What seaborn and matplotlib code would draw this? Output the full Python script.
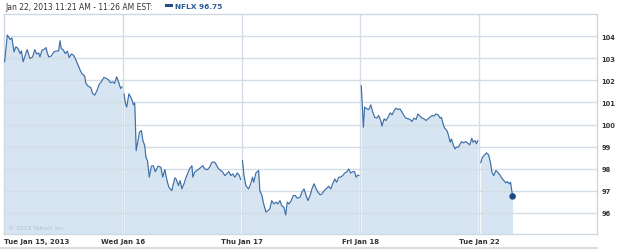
import numpy as np
import pandas as pd
import matplotlib
matplotlib.use("Agg")
import matplotlib.pyplot as plt
import seaborn as sns
from matplotlib.lines import Line2D
from matplotlib.patches import Rectangle

# ---------------- data ----------------
day_labels = ["Tue Jan 15, 2013", "Wed Jan 16", "Thu Jan 17", "Fri Jan 18", "Tue Jan 22"]
y_ticks = [96, 97, 98, 99, 100, 101, 102, 103, 104]
header_text = "Jan 22, 2013 11:21 AM - 11:26 AM EST:"
legend_text = "NFLX 96.75"
copyright_text = "\u00a9 2013 Yahoo! Inc."
session_minutes = 390  # 9:30 - 16:00

# minutes since the open, per trading day
day1_min = [2, 11, 20, 26, 33, 39, 46, 53, 57, 63, 70, 76, 85, 94, 101, 107, 114, 118, 125, 131,
            138, 142, 147, 155, 164, 173, 179, 184, 188, 195, 201, 208, 214, 221, 228, 234, 241, 250, 256, 265,
            269, 276, 285, 291, 298, 306, 313, 319, 328, 337, 344, 350, 357, 363, 370, 377, 383, 388]
day1_px = [102.84, 104.05, 103.85, 103.92, 103.29, 103.52, 103.44, 103.21, 103.33, 102.84,
           103.14, 103.39, 102.99, 103.06, 103.39, 103.19, 103.24, 103.06, 103.37, 103.39,
           103.48, 103.24, 103.06, 103.10, 103.29, 103.33, 103.33, 103.79, 103.44, 103.37,
           103.21, 103.32, 103.03, 103.19, 103.14, 102.99, 102.76, 102.46, 102.31, 102.19,
           101.86, 101.74, 101.67, 101.40, 101.33, 101.56, 101.83, 101.93, 102.13, 102.08,
           102.01, 101.89, 101.93, 101.86, 102.16, 101.89, 101.63, 101.71]

day2_min = [4, 9, 13, 20, 26, 31, 35, 39, 41, 44, 48, 55, 61, 66, 72, 76, 81, 87, 94, 100,
            107, 116, 125, 131, 138, 144, 151, 161, 171, 175, 183, 188, 194, 201, 208, 219, 227, 230, 236, 243,
            250, 263, 269, 278, 285, 293, 302, 315, 322, 328, 335, 341, 348, 355, 361, 368, 376, 383, 387]
day2_px = [101.39, 100.94, 100.79, 101.39, 101.24, 101.09, 100.89, 100.98, 100.26, 98.82,
           99.13, 99.66, 99.73, 99.28, 99.05, 98.52, 98.37, 97.62, 98.12, 98.14,
           97.87, 98.12, 98.07, 97.62, 97.96, 97.54, 97.17, 97.01, 97.59, 97.54,
           97.24, 97.47, 97.09, 97.32, 97.62, 97.99, 98.14, 97.62, 97.85, 97.92,
           97.99, 98.14, 97.99, 97.96, 98.07, 98.30, 98.30, 97.99, 97.92, 97.85,
           97.69, 97.77, 97.87, 97.69, 97.77, 97.62, 97.81, 97.69, 97.51]

day3_min = [3, 8, 14, 23, 30, 36, 40, 47, 56, 60, 67, 71, 80, 87, 93, 99, 106, 113, 119, 126,
            132, 139, 145, 150, 156, 163, 170, 176, 183, 192, 198, 205, 212, 218, 225, 231, 238, 245, 251, 258,
            264, 271, 280, 286, 293, 299, 306, 312, 319, 325, 332, 339, 345, 352, 358, 365, 371, 376, 382, 386]
day3_px = [98.37, 97.69, 97.24, 97.09, 97.32, 97.62, 97.39, 97.81, 97.92, 97.01,
           96.79, 96.49, 96.04, 96.11, 96.19, 96.56, 96.41, 96.49, 96.41, 96.56,
           96.33, 96.26, 95.91, 96.49, 96.41, 96.56, 96.79, 96.79, 96.67, 96.71,
           96.94, 97.09, 96.79, 96.56, 96.79, 97.09, 97.32, 97.09, 96.94, 96.82,
           96.86, 97.01, 97.12, 97.21, 97.09, 97.32, 97.54, 97.39, 97.62, 97.62,
           97.69, 97.81, 97.85, 97.99, 97.81, 97.87, 97.87, 97.62, 97.72, 97.69]

day4_min = [3, 10, 14, 21, 28, 34, 41, 47, 54, 60, 67, 71, 78, 84, 91, 98, 104, 111, 117, 124,
            130, 137, 144, 150, 157, 163, 170, 176, 183, 189, 196, 203, 209, 216, 222, 229, 235, 242, 248, 255,
            262, 266, 273, 277, 284, 288, 295, 299, 306, 311, 315, 322, 328, 333, 339, 346, 352, 359, 366, 370,
            377, 381, 386]
day4_px = [101.76, 99.88, 100.79, 100.71, 100.68, 100.89, 100.56, 100.33, 100.29, 100.41,
           100.18, 99.93, 100.26, 100.18, 100.33, 100.53, 100.44, 100.63, 100.74, 100.68,
           100.71, 100.56, 100.38, 100.29, 100.26, 100.23, 100.14, 100.29, 100.23, 100.48,
           100.38, 100.29, 100.26, 100.18, 100.26, 100.33, 100.41, 100.38, 100.48, 100.44,
           100.29, 100.33, 99.96, 99.84, 99.73, 99.58, 99.20, 99.35, 99.05, 98.90,
           98.98, 98.98, 99.13, 99.23, 99.17, 99.23, 99.17, 99.08, 99.38, 99.20,
           99.28, 99.13, 99.28]

day5_min = [5, 11, 18, 24, 31, 37, 42, 48, 55, 61, 68, 75, 81, 88, 92, 99, 103, 110]
day5_px = [98.27, 98.52, 98.63, 98.72, 98.63, 98.30, 97.85, 97.69, 97.92, 97.85,
           97.72, 97.57, 97.47, 97.36, 97.42, 97.32, 97.39, 96.75]

day_minutes = [day1_min, day2_min, day3_min, day4_min, day5_min]
day_prices = [day1_px, day2_px, day3_px, day4_px, day5_px]

frames = []
for i, (m, p) in enumerate(zip(day_minutes, day_prices)):
    frames.append(pd.DataFrame({"day": i, "minute": m, "price": p}))
df = pd.concat(frames, ignore_index=True)
df["t"] = df["day"] * session_minutes + df["minute"]

# ---------------- style ----------------
sns.set_style("white")
plt.rcParams["font.family"] = ["DejaVu Sans"]

W, H = 625, 251
fig = plt.figure(figsize=(W / 100, H / 100), dpi=100)
ax = fig.add_axes([4 / W, 16 / H, 593 / W, 220 / H])

line_col = "#3d6ea6"
fill_col = "#d6e5f1"
grid_col = "#d2dde7"
text_col = "#333333"

ymin, ymax = 95.05, 105.0
for d, g in df.groupby("day"):
    ax.fill_between(g["t"], g["price"], ymin - 1, color=fill_col, lw=0, zorder=1)

sns.lineplot(data=df, x="t", y="price", units="day", estimator=None,
             color=line_col, lw=0.85, ax=ax, zorder=3)

last = df.iloc[-1]
sns.scatterplot(x=[last["t"]], y=[last["price"]], color="#1b4b82", s=22,
                edgecolor="none", ax=ax, zorder=5)

for yv in y_ticks:
    ax.axhline(yv, color=grid_col, lw=1.0, zorder=2)
for i in range(1, len(day_labels)):
    ax.axvline(i * session_minutes, color=grid_col, lw=1.0, zorder=0.5)

ax.set_ylim(ymin, ymax)
ax.set_xlim(0, 1947)
ax.set_xlabel("")
ax.set_ylabel("")

ax.yaxis.tick_right()
ax.set_yticks(y_ticks)
ax.set_yticklabels([str(v) for v in y_ticks], fontsize=4.8, fontweight="bold", color=text_col)
ax.tick_params(axis="y", length=0, pad=3)

ax.set_xticks([i * session_minutes for i in range(len(day_labels))])
ax.set_xticklabels(day_labels, fontsize=5, fontweight="bold", color=text_col)
ax.tick_params(axis="x", length=0, pad=3)
ax.get_xticklabels()[0].set_horizontalalignment("left")

for s in ax.spines.values():
    s.set_color("#cdd8e2")
    s.set_linewidth(1.0)

ax.text(0.006, 0.03, copyright_text, transform=ax.transAxes, fontsize=4.3,
        color="#b3c0cc", va="center", ha="left", zorder=4)

# header
fig.text(5 / W, 1 - 7.3 / H, header_text, fontsize=5.5, color=text_col, va="center", ha="left")
fig.patches.append(Rectangle((165 / W, 1 - 8.2 / H), 8 / W, 3 / H, transform=fig.transFigure,
                             color="#1f4f8a", lw=0))
fig.text(175 / W, 1 - 7.3 / H, legend_text, fontsize=5.3, fontweight="bold", color="#2b5b95",
         va="center", ha="left")

# bottom separator
fig.add_artist(Line2D([0, 597 / W], [1 - 249 / H, 1 - 249 / H], transform=fig.transFigure,
                      color="#dddddd", lw=1.5))

fig.savefig("out.png", dpi=100)
